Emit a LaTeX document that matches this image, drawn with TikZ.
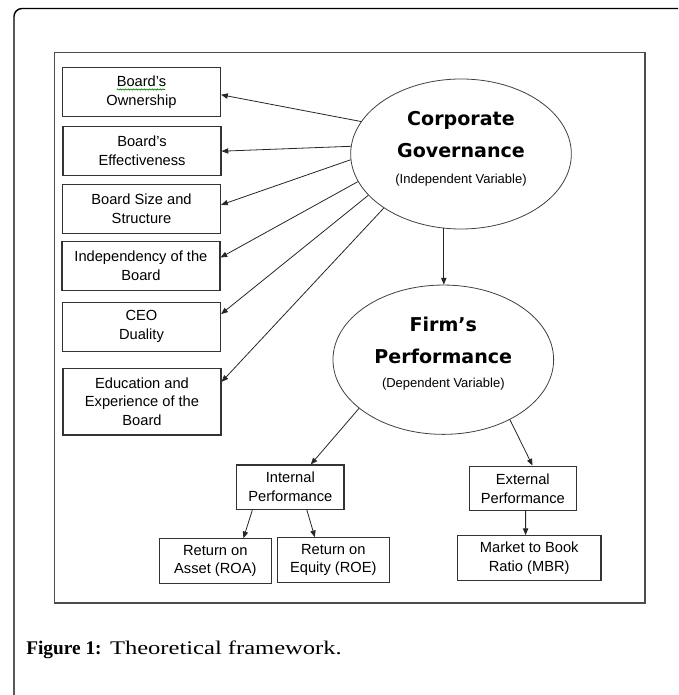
\documentclass[tikz,border=0pt]{standalone}
\usepackage{fontspec}
\newfontfamily\boxfont{Liberation Sans}
\newfontfamily\headfont{DejaVu Sans}
\newfontfamily\capfont{Liberation Serif}
\newfontfamily\capwide[FakeStretch=1.27]{Liberation Serif}
\usetikzlibrary{arrows.meta,calc,shapes.geometric,decorations.pathmorphing}
\tikzset{
  varbox/.style={draw=black!80, line width=0.9pt, fill=white, minimum width=118.5pt, minimum height=36.75pt, inner sep=1pt, align=center, font=\boxfont\fontsize{11}{14.2}\selectfont},
  perfbox/.style={varbox, minimum width=80.5pt, minimum height=33.3pt},
  varell/.style={ellipse, draw=black!75, line width=0.6pt, inner sep=0pt, align=center, minimum width=165.5pt, minimum height=112.5pt, font=\headfont\bfseries\fontsize{14.3}{24}\selectfont},
  link/.style={draw=black!85, line width=0.6pt, -{Triangle[length=5pt,width=4pt]}},
}
\newcommand{\subvar}[1]{{\boxfont\mdseries\fontsize{9.75}{12}\selectfont #1}}
\begin{document}
\begin{tikzpicture}[x=0.75pt,y=-0.75pt]
	   \useasboundingbox (0,0) rectangle (678,695);
	   \draw[line width=1.1pt, rounded corners=6pt] (678,8.5) -- (14,8.5) -- (14,695);
	   \draw[line width=1.2pt, black!70] (54.3,52.7) rectangle (645,602.7);
	   \node [varbox] (own) at (141.5,92) {Board’s\\Ownership};
	   \node [varbox] (eff) at (142,151.2) {Board’s\\Effectiveness};
	   \node [varbox] (size) at (141.5,209) {Board Size and\\Structure};
	   \node [varbox] (indep) at (140.9,265.9) {Independency of the\\Board};
	   \node [varbox] (ceo) at (141.5,326.7) {CEO\\Duality};
	   \node [varbox,minimum height=50pt] (edu) at (142,401.7) {Education and\\Experience of the\\Board};
	   \draw[decorate, decoration={snake, amplitude=0.45pt, segment length=2pt}, green!55!black, line width=0.5pt] ($(own.center)+(-24.8,-2.5)$) -- ($(own.center)+(23.5,-2.5)$);
	   \node [varell] (cg) at (461,154) {Corporate\\Governance\\[-5.1pt]\subvar{(Independent Variable)}\rule[-10pt]{0pt}{0pt}};
	   \node [varell,minimum height=112pt] (fp) at (443.3,359.7) {Firm’s\\Performance\\[-5.6pt]\subvar{(Dependent Variable)}\rule[-11pt]{0pt}{0pt}};
	   \node [perfbox] (int) at (290.3,487.2) {Internal\\Performance};
	   \node [perfbox] (ext) at (522.8,488.3) {External\\Performance};
	   \node [perfbox,minimum width=84pt] (roa) at (215.3,561) {Return on\\Asset (ROA)};
	   \node [perfbox,minimum width=84pt] (roe) at (333.3,560) {Return on\\Equity (ROE)};
	   \node [perfbox,minimum width=107.8pt] (mbr) at (529.2,557.9) {Market to Book\\Ratio (MBR)};
	   \draw[link] (cg.162) -- (own.-2);
	   \draw[link] (cg.176) -- (eff.east);
	   \draw[link] (cg.183) -- (size.3.6);
	   \draw[link] (cg.195) -- (indep.6.4);
	   \draw[link] (cg.204) -- (ceo.9.6);
	   \draw[link] (cg.215.5) -- (edu.14.3);
	   \draw[link] (cg.257) -- (cg.257 |- fp.north);
	   \draw[link] (fp.210.6) -- (int.48.4);
	   \draw[link] (fp.318.6) -- (ext.67.6);
	   \draw[link] (int.211) -- (roa.39.6);
	   \draw[link] (int.306.5) -- (roe.129.4);
	   \draw[link] (ext.277.4) -- (mbr.99);
	   \node [anchor=west, inner sep=0pt, font=\fontsize{14.5}{17}\selectfont] (cap) at (26,650) {{\capfont\bfseries Figure 1:} {\capwide Theoretical framework.}};
\end{tikzpicture}
\end{document}
